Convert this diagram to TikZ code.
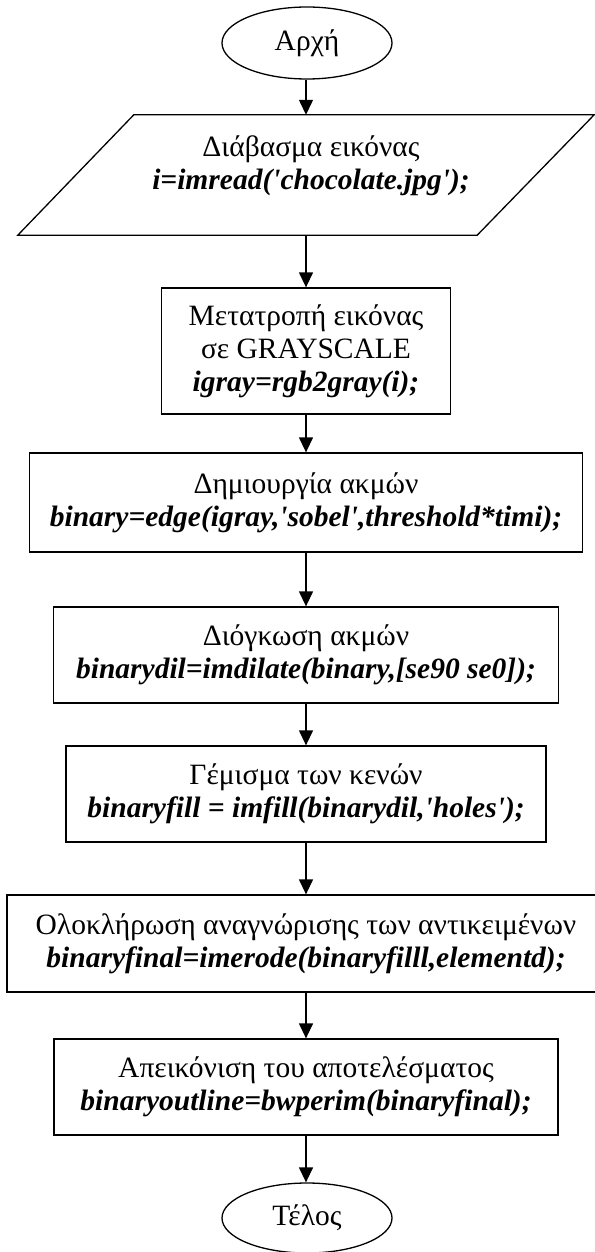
\documentclass[tikz,border=0pt]{standalone}
\usepackage{fontspec}
\setmainfont{Liberation Serif}
\usetikzlibrary{arrows.meta,shapes.geometric}
\newcommand\flowtext{\fontsize{29.5}{33}\selectfont}
\newcommand\code[1]{\textbf{\textit{#1}}}
\begin{document}
\begin{tikzpicture}[x=1pt,y=-1pt,
  box/.style={draw,line width=1.3pt,inner sep=0pt,align=center,font=\flowtext},
  terminal/.style={draw,ellipse,line width=1.3pt,inner sep=0pt,
    minimum width=170pt,minimum height=72pt,font=\flowtext},
  arr/.style={line width=1.3pt,-{Triangle[length=15pt,width=14pt]}}]
\useasboundingbox (0,0) rectangle (594,1252);

% start / end terminals
\node[terminal] (start) at (307,43) {Αρχή};
\node[terminal,minimum height=70pt] (stop) at (307,1218) {Τέλος};

% input step: parallelogram drawn around an invisible frame
\node[inner sep=0pt,minimum width=576pt,minimum height=120pt] (read) at (306,175) {};
\draw[line width=1.3pt] ([xshift=116pt]read.north west) -- (read.north east)
  -- ([xshift=-117pt]read.south east) -- (read.south west) -- cycle;
\node[align=center,font=\flowtext] (readtxt) at (311,166)
  {Διάβασμα εικόνας\\ \code{i=imread(\textquotesingle chocolate.jpg\textquotesingle);}};

% processing steps, all centred on the same vertical axis
\node[box,minimum width=289pt,minimum height=126pt] (gray) at (306,351)
  {Μετατροπή εικόνας\\ σε GRAYSCALE\\ \code{igray=rgb2gray(i);}};
\node[box,minimum width=553pt,minimum height=99pt] (edges) at (306,502.5)
  {Δημιουργία ακμών\\ \code{binary=edge(igray,\textquotesingle sobel\textquotesingle,threshold*timi);}};
\node[box,minimum width=505pt,minimum height=96pt] (dil) at (306,655)
  {Διόγκωση ακμών\\ \code{binarydil=imdilate(binary,[se90 se0]);}};
\node[box,minimum width=480pt,minimum height=96pt] (fill) at (306,794)
  {Γέμισμα των κενών\\ \code{binaryfill = imfill(binarydil,\textquotesingle holes\textquotesingle);}};
\node[box,minimum width=598pt,minimum height=97pt] (final) at (306,943.5)
  {Ολοκλήρωση αναγνώρισης των αντικειμένων\\ \code{binaryfinal=imerode(binaryfilll,elementd);}};
\node[box,minimum width=504pt,minimum height=96pt] (outline) at (306,1087)
  {Απεικόνιση του αποτελέσματος\\ \code{binaryoutline=bwperim(binaryfinal);}};

% connectors
\draw[arr] (read.north |- start.south) -- (read.north);
\draw[arr] (read.south) -- (read.south |- gray.north);
\draw[arr] (gray.south) -- (edges.north);
\draw[arr] (edges.south) -- (dil.north);
\draw[arr] (dil.south) -- (fill.north);
\draw[arr] (fill.south) -- (final.north);
\draw[arr] (final.south) -- (outline.north);
\draw[arr] (outline.south) -- (outline.south |- stop.north);
\end{tikzpicture}
\end{document}
